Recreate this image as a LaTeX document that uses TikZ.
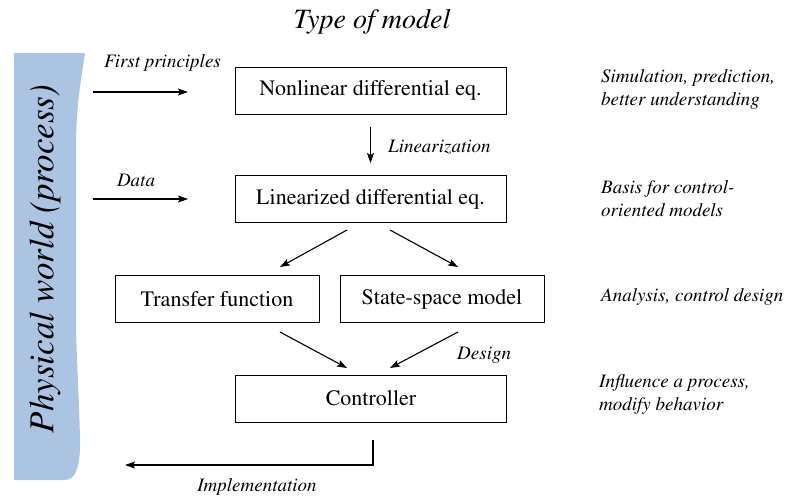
\documentclass[tikz,border=0pt]{standalone}
\usepackage[T1]{fontenc}
\usepackage{times}
\usetikzlibrary{arrows.meta, positioning}
\definecolor{worldblue}{RGB}{170,196,226}

\tikzset{
  block/.style={draw, line width=0.9pt, minimum width=271pt, minimum height=47pt,
    inner sep=0pt, font=\fontsize{22}{26}\selectfont},
  note/.style={font=\fontsize{19}{23}\selectfont\itshape, align=left, anchor=west, inner sep=0pt},
  tag/.style={font=\fontsize{19}{23}\selectfont\itshape, inner sep=0pt},
  flow/.style={-{Stealth[length=10pt,width=7pt,inset=2pt]}, line width=1.1pt},
}

\begin{document}
\begin{tikzpicture}[x=1pt, y=-1pt]
\useasboundingbox (0,0) rectangle (791,496);

% the physical world, a blue band down the left side
\fill[worldblue] (14,53) -- (85,53) .. controls (81,80) and (77,100) .. (76,140)
  -- (76,330) .. controls (78,390) and (80,420) .. (80,448)
  .. controls (79,472) and (74,480) .. (64,480) -- (14,480) -- cycle;
\node[rotate=90, font=\fontsize{35}{40}\selectfont\itshape] (world) at (45,259) {Physical world (process)};

\node[font=\fontsize{28}{32}\selectfont\itshape] (title) at (372,22) {Type of model};

% model boxes
\node[block] (nonlin) at (370.5,90.5) {Nonlinear differential eq.};
\node[block] (linear) at (370.5,199) {Linearized differential eq.};
\node[block, minimum width=204pt] (tf) at (217,299) {Transfer function};
\node[block, minimum width=204pt] (ss) at (442,299) {State-space model};
\node[block] (ctrl) at (371,398.5) {Controller};

% free ends of the arrows
\coordinate (fpin) at (93,92);   \coordinate (fpout) at (188,92);
\coordinate (datin) at (93,199); \coordinate (datout) at (188,199);
\coordinate (l1) at (347,230);   \coordinate (tfin) at (280,267);
\coordinate (l2) at (390,230);   \coordinate (ssin) at (458,267);
\coordinate (tfout) at (280,332); \coordinate (cin1) at (347,368);
\coordinate (ssout) at (458,332); \coordinate (cin2) at (390,368);
\coordinate (impl) at (373,440); \coordinate (back) at (125,465);

% inputs from the world
\draw[flow] (fpin) -- (fpout);
\node[tag] (fplab) at (162.5,63) {First principles};
\draw[flow] (datin) -- (datout);
\node[tag] (datlab) at (136,180) {Data};

% linearization and the two model forms
\draw[flow, shorten <=13pt, shorten >=12pt] (nonlin.south) -- (linear.north);
\node[tag, anchor=west] (linlab) at (388,147) {Linearization};
\draw[flow] (l1) -- (tfin);
\draw[flow] (l2) -- (ssin);

% design of the controller
\draw[flow] (tfout) -- (cin1);
\draw[flow] (ssout) -- (cin2);
\node[tag, anchor=west] (deslab) at (457,355) {Design};

% back to the process
\draw[flow] (impl) |- (back);
\node[tag] (implab) at (257,487) {Implementation};

% what each model is for
\node[note] (use1) at (601,89.5) {Simulation, prediction,\\better understanding};
\node[note] (use2) at (601,198.5) {Basis for control-\\oriented models};
\node[note] (use3) at (601,297) {Analysis, control design};
\node[note] (use4) at (599,394.5) {Influence a process,\\modify behavior};
\end{tikzpicture}
\end{document}
